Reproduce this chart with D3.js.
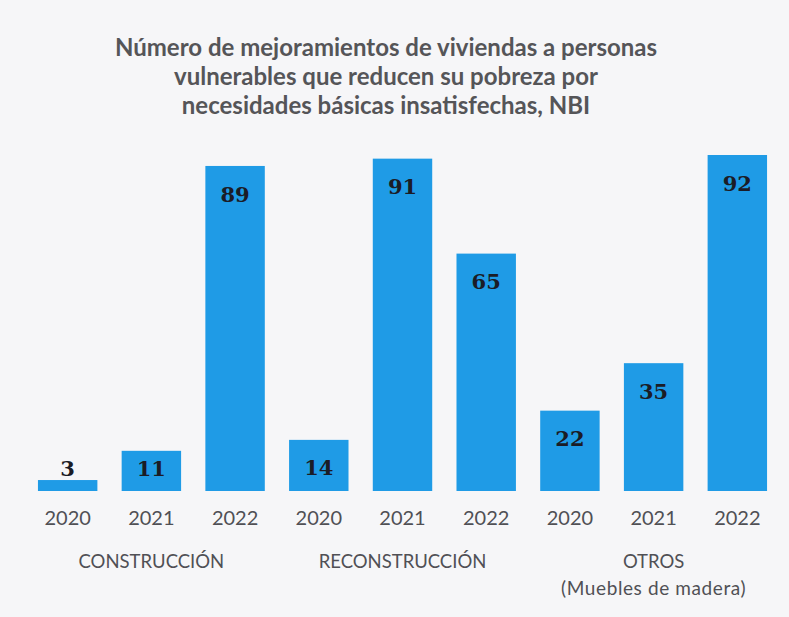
<!DOCTYPE html>
<html>
<head>
<meta charset="utf-8">
<script src="https://cdn.jsdelivr.net/npm/d3@7"></script>
<style>
  html, body { margin: 0; padding: 0; background: #f6f6f8; }
  svg { display: block; }
</style>
</head>
<body>
<script>
// Data
const groups = ["CONSTRUCCIÓN", "RECONSTRUCCIÓN", "OTROS"];
const groupSubtitles = ["", "", "(Muebles de madera)"];
const years = ["2020", "2021", "2022"];
const values = [
  [3, 11, 89],
  [14, 91, 65],
  [22, 35, 92]
];
const titleLines = [
  "Número de mejoramientos de viviendas a personas",
  "vulnerables que reducen su pobreza por",
  "necesidades básicas insatisfechas, NBI"
];

const W = 789, H = 617;
const svg = d3.select("body").append("svg").attr("width", W).attr("height", H);

svg.append("rect").attr("width", W).attr("height", H).attr("fill", "#f6f6f8");

// Flatten into one bar per (group, year)
const bars = [];
groups.forEach((g, gi) => years.forEach((y, yi) => {
  bars.push({ key: gi + "-" + yi, group: g, gi, year: y, value: values[gi][yi] });
}));

const x = d3.scaleBand()
  .domain(bars.map(d => d.key))
  .range([12, 793])
  .paddingInner(0.29)
  .paddingOuter(0.31);

const y = d3.scaleLinear().domain([0, 92]).range([491, 155]);

const sans = "Lato, 'Open Sans', sans-serif";

// Title
svg.append("g").selectAll("text").data(titleLines).join("text")
  .attr("x", 386)
  .attr("y", (d, i) => 56 + i * 29)
  .attr("text-anchor", "middle")
  .attr("font-family", sans)
  .attr("font-weight", 700)
  .attr("font-size", 24)
  .attr("fill", "#555558")
  .text(d => d);

// Bars
svg.append("g").selectAll("rect").data(bars).join("rect")
  .attr("x", d => x(d.key))
  .attr("y", d => y(d.value))
  .attr("width", x.bandwidth())
  .attr("height", d => y(0) - y(d.value))
  .attr("fill", "#1f9be6");

// Value labels
svg.append("g").selectAll("text").data(bars).join("text")
  .attr("x", d => x(d.key) + x.bandwidth() / 2)
  .attr("y", d => Math.min(y(d.value) + 28, y(0) - 23))
  .attr("dy", "0.36em")
  .attr("text-anchor", "middle")
  .attr("font-family", "'DejaVu Serif', 'Liberation Serif', serif")
  .attr("font-weight", 700)
  .attr("font-size", 21)
  .attr("fill", "#1b1c26")
  .text(d => d.value);

// Year axis
const axis = svg.append("g")
  .attr("transform", `translate(0,${y(0)})`)
  .call(d3.axisBottom(x).tickSize(0).tickPadding(20).tickFormat(k => years[+k.split("-")[1]]));
axis.select(".domain").remove();
axis.selectAll("text")
  .attr("font-family", sans)
  .attr("font-size", 20)
  .attr("fill", "#505055");

// Group labels
const groupCenter = gi => (x(gi + "-0") + x(gi + "-2") + x.bandwidth()) / 2;
const gl = svg.append("g").selectAll("g").data(groups).join("g");
gl.append("text")
  .attr("x", (d, i) => groupCenter(i))
  .attr("y", 568)
  .attr("text-anchor", "middle")
  .attr("font-family", sans)
  .attr("font-size", 18.5)
  .attr("fill", "#505055")
  .text(d => d);
gl.append("text")
  .attr("x", (d, i) => groupCenter(i))
  .attr("y", 595)
  .attr("text-anchor", "middle")
  .attr("font-family", sans)
  .attr("font-size", 19)
  .attr("letter-spacing", 0.6)
  .attr("fill", "#505055")
  .text((d, i) => groupSubtitles[i]);
</script>
</body>
</html>
